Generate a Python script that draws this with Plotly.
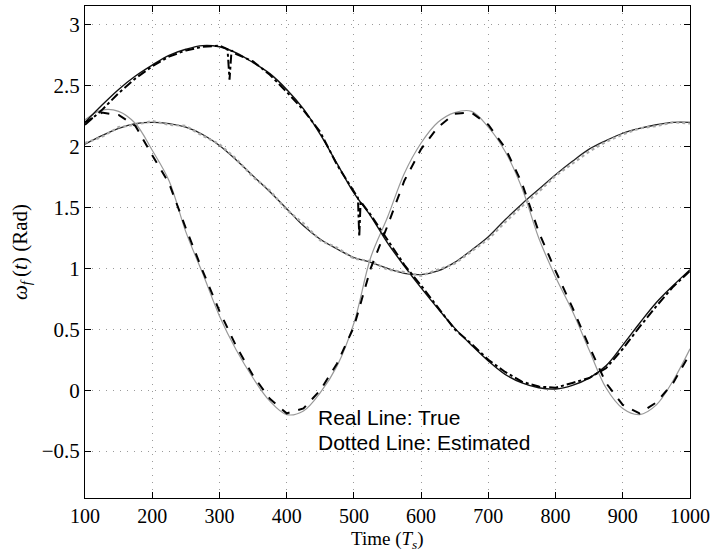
import plotly.graph_objects as go

# time axis (samples, Ts)
t = [100, 125, 150, 175, 200, 225, 250, 275, 300, 325, 350, 375, 400, 425, 450, 475,
     500, 525, 550, 575, 600, 625, 650, 675, 700, 725, 750, 775, 800, 825, 850, 875,
     900, 925, 950, 975, 1000]

# true trajectories
true_a = [2.20, 2.34, 2.47, 2.58, 2.67, 2.75, 2.80, 2.83, 2.82, 2.77, 2.69, 2.60, 2.47, 2.31,
          2.10, 1.86, 1.62, 1.43, 1.21, 1.02, 0.84, 0.67, 0.51, 0.37, 0.24, 0.13, 0.06, 0.02,
          0.01, 0.04, 0.10, 0.20, 0.37, 0.55, 0.72, 0.86, 0.99]
true_b = [2.22, 2.30, 2.29, 2.19, 1.97, 1.72, 1.30, 0.96, 0.61, 0.33, 0.10, -0.09, -0.20, -0.17,
          -0.02, 0.20, 0.55, 1.09, 1.42, 1.78, 2.03, 2.20, 2.28, 2.29, 2.16, 1.96, 1.66, 1.25,
          0.93, 0.65, 0.33, 0.02, -0.15, -0.20, -0.12, 0.08, 0.34]
true_c = [2.02, 2.09, 2.15, 2.19, 2.20, 2.19, 2.16, 2.10, 2.01, 1.89, 1.76, 1.63, 1.49, 1.35,
          1.24, 1.16, 1.09, 1.05, 1.00, 0.96, 0.95, 0.98, 1.05, 1.15, 1.26, 1.40, 1.53, 1.65,
          1.77, 1.88, 1.98, 2.05, 2.11, 2.15, 2.18, 2.20, 2.20]

# estimated trajectories
t_est_a = [100, 125, 150, 175, 200, 225, 250, 275, 300, 312, 315, 318, 325, 350, 375, 400,
           425, 450, 475, 500, 506, 508, 510, 525, 550, 575, 600, 625, 650, 675, 700, 725,
           750, 775, 800, 825, 850, 875, 900, 925, 950, 975, 1000]
est_a = [2.18, 2.30, 2.44, 2.56, 2.66, 2.74, 2.79, 2.82, 2.83, 2.80, 2.55, 2.79, 2.76, 2.70,
         2.59, 2.45, 2.30, 2.12, 1.85, 1.64, 1.58, 1.26, 1.55, 1.44, 1.24, 1.03, 0.86, 0.68,
         0.50, 0.38, 0.25, 0.15, 0.07, 0.03, 0.02, 0.06, 0.10, 0.18, 0.34, 0.52, 0.69, 0.85, 0.98]
est_b = [2.20, 2.28, 2.26, 2.17, 1.93, 1.70, 1.33, 0.98, 0.65, 0.36, 0.12, -0.07, -0.19, -0.15,
         0.00, 0.22, 0.52, 1.00, 1.35, 1.72, 1.98, 2.16, 2.27, 2.28, 2.18, 1.99, 1.70, 1.30,
         0.98, 0.68, 0.36, 0.06, -0.12, -0.19, -0.10, 0.06, 0.30]
est_c = [2.03, 2.08, 2.16, 2.18, 2.21, 2.18, 2.17, 2.09, 2.02, 1.90, 1.75, 1.64, 1.48, 1.37,
         1.23, 1.17, 1.08, 1.06, 0.99, 0.97, 0.94, 0.99, 1.04, 1.14, 1.24, 1.38, 1.51, 1.63,
         1.76, 1.86, 1.96, 2.04, 2.10, 2.15, 2.17, 2.20, 2.19]

x_ticks = [100, 200, 300, 400, 500, 600, 700, 800, 900, 1000]
y_ticks = [-0.5, 0, 0.5, 1, 1.5, 2, 2.5, 3]

SERIF = "Liberation Serif, Times New Roman"

fig = go.Figure()
fig.add_trace(go.Scatter(x=t, y=true_c, mode="lines", line=dict(color="#222222", width=1.3, shape="spline")))
fig.add_trace(go.Scatter(x=t, y=true_b, mode="lines", line=dict(color="#999999", width=1.2, shape="spline")))
fig.add_trace(go.Scatter(x=t, y=true_a, mode="lines", line=dict(color="#111111", width=1.4, shape="spline")))
fig.add_trace(go.Scatter(x=t, y=est_c, mode="lines", line=dict(color="#aaaaaa", width=2.2, dash="dot")))
fig.add_trace(go.Scatter(x=t, y=est_b, mode="lines", line=dict(color="#000000", width=2, dash="dash")))
fig.add_trace(go.Scatter(x=t_est_a, y=est_a, mode="lines", line=dict(color="#000000", width=2, dash="dashdot")))

fig.add_annotation(x=443, y=-0.225, xref="x", yref="y", text="Real Line: True", showarrow=False,
                   xanchor="left", yanchor="middle",
                   font=dict(family="Liberation Sans, Arial", size=21, color="black"))
fig.add_annotation(x=443, y=-0.43, xref="x", yref="y", text="Dotted Line: Estimated", showarrow=False,
                   xanchor="left", yanchor="middle",
                   font=dict(family="Liberation Sans, Arial", size=21, color="black"))

# x-axis title placed just under the tick labels
fig.add_annotation(x=0.5, y=-0.1115, xref="paper", yref="paper",
                   text="Time (<i>T</i><sub><i>s</i></sub>)", showarrow=False,
                   xanchor="center", yanchor="bottom", borderpad=0,
                   font=dict(family=SERIF, size=19, color="black"))

axis_common = dict(
    showline=True, linecolor="black", linewidth=1, mirror="ticks",
    ticks="inside", ticklen=6, tickcolor="black",
    showgrid=True, gridcolor="#9a9a9a", griddash="1px,6px", gridwidth=1,
    zeroline=False,
    tickfont=dict(family=SERIF, size=21, color="black"),
)

fig.update_xaxes(range=[100, 1000], tickvals=x_ticks, **axis_common)
fig.update_xaxes(tickfont=dict(family=SERIF, size=20, color="black"))
fig.update_yaxes(range=[-0.885, 3.155], tickvals=y_ticks,
                 title=dict(text="<i>ω</i><sub><i>f</i></sub>&#8201;(<i>t</i>) (Rad)", standoff=8,
                            font=dict(family=SERIF, size=21, color="black")),
                 **axis_common)

fig.update_layout(
    width=715, height=553,
    margin=dict(l=85, r=25, t=6, b=55),
    paper_bgcolor="white", plot_bgcolor="white",
    showlegend=False,
)

fig.write_html("out.html")
